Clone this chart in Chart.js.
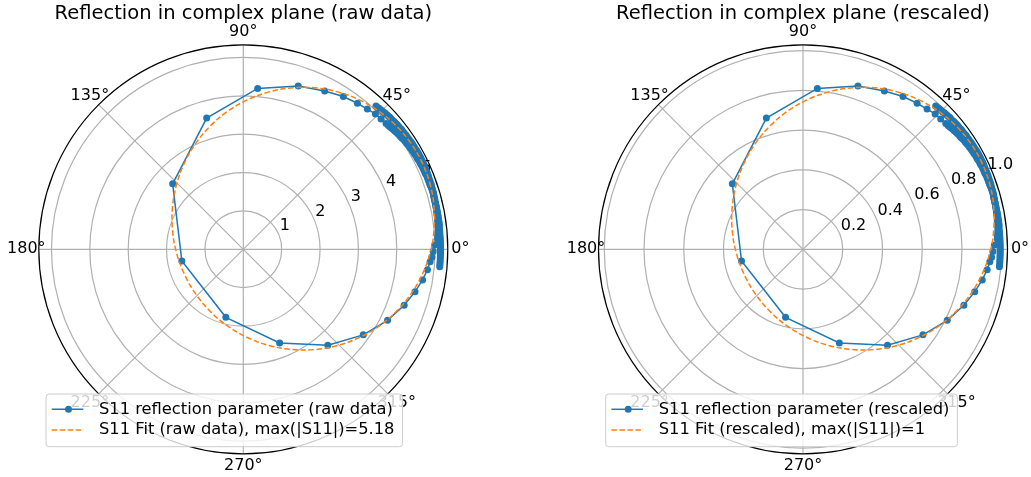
<!DOCTYPE html>
<html>
<head>
<meta charset="utf-8">
<script src="https://cdn.jsdelivr.net/npm/chart.js@4.4.0/dist/chart.umd.min.js"></script>
<style>
    html, body { margin: 0; padding: 0; background: #fff; }
    body { width: 1031px; height: 477px; position: relative; overflow: hidden; }
    .panel { position: absolute; top: 0; }
</style>
</head>
<body>
<div class="panel" style="left:0"><canvas id="rawCanvas" width="516" height="477"></canvas></div>
<div class="panel" style="left:516px"><canvas id="scaledCanvas" width="515" height="477"></canvas></div>
<script>
// measured S11 (raw data): phase in degrees, magnitude
// slow start near 47 deg, resonance loop, slow tail down to -5 deg
const s11PhaseDeg = [
    // start (outer track)
    47.2, 46.7, 46.1, 45.6, 45.1, 44.5, 44.0, 43.5, 43.0, 42.4,
    41.9, 41.4, 40.9, 40.3, 39.8, 39.3, 38.8, 38.2, 37.7, 37.2,
    36.7, 36.1, 35.6, 35.1, 34.6, 34.0, 33.5, 33.0, 32.5, 31.9,
    31.4, 30.9, 30.4, 29.8, 29.3, 28.8, 28.3, 27.7, 27.2, 26.7,
    26.1, 25.6, 25.0, 24.5, 23.9, 23.4, 22.8, 22.3, 21.7, 21.2,
    20.6, 20.0, 19.4, 18.9, 18.3, 17.7, 17.1, 16.5, 15.9, 15.3,
    14.7, 14.1, 13.5, 12.9, 12.3, 11.6, 11.0, 10.4, 9.8, 9.1,
    8.5, 7.8, 7.2, 6.5, 5.9, 5.2, 4.5, 3.8, 3.1,
    // resonance loop
    1.3, -0.7, -2.4, -3.8, -6.3, -9.7, -13.9, -19.2, -26.2, -35.5,
    -48.6, -68.8, -104.4, -169.3, 137.2, 105.6, 84.9, 71.4, 62.8, 56.8,
    52.0, 48.5, 45.7, 43.4, 41.4,
    // tail (inner track)
    40.5, 39.9, 39.3, 38.7, 38.1, 37.5, 36.9, 36.3, 35.7, 35.1,
    34.5, 33.9, 33.3, 32.7, 32.1, 31.5, 30.9, 30.3, 29.7, 29.1,
    28.5, 27.9, 27.3, 26.7, 26.1, 25.5, 24.9, 24.3, 23.7, 23.1,
    22.5, 21.9, 21.3, 20.7, 20.1, 19.5, 18.9, 18.3, 17.7, 17.1,
    16.5, 15.9, 15.3, 14.7, 14.1, 13.5, 12.9, 12.3, 11.7, 11.1,
    10.5, 9.9, 9.3, 8.7, 8.1, 7.5, 6.9, 6.3, 5.7, 5.1,
    4.5, 3.9, 3.3, 2.7, 2.1, 1.5, 0.9, 0.3, -0.3, -0.9,
    -1.5, -2.1, -2.7, -3.3, -3.9, -4.5, -5.1
];
const s11Mag = [
    5.09, 5.09, 5.10, 5.10, 5.11, 5.11, 5.12, 5.12, 5.13, 5.13,
    5.14, 5.14, 5.14, 5.15, 5.15, 5.16, 5.16, 5.16, 5.16, 5.17,
    5.17, 5.17, 5.17, 5.18, 5.18, 5.18, 5.18, 5.18, 5.19, 5.19,
    5.19, 5.19, 5.19, 5.20, 5.20, 5.20, 5.20, 5.20, 5.20, 5.20,
    5.20, 5.20, 5.20, 5.19, 5.19, 5.19, 5.19, 5.19, 5.19, 5.18,
    5.18, 5.18, 5.18, 5.18, 5.17, 5.17, 5.17, 5.17, 5.16, 5.16,
    5.16, 5.15, 5.15, 5.15, 5.14, 5.14, 5.14, 5.13, 5.13, 5.13,
    5.12, 5.12, 5.12, 5.11, 5.11, 5.10, 5.09, 5.08, 5.07,
    4.99, 4.95, 4.92, 4.88, 4.83, 4.74, 4.61, 4.44, 4.19, 3.84,
    3.33, 2.62, 1.83, 1.63, 2.51, 3.55, 4.21, 4.49, 4.64, 4.76,
    4.83, 4.88, 4.93, 4.94, 4.96,
    4.97, 4.98, 4.99, 5.00, 5.01, 5.02, 5.03, 5.04, 5.04, 5.05,
    5.06, 5.07, 5.07, 5.08, 5.09, 5.09, 5.10, 5.10, 5.11, 5.11,
    5.12, 5.12, 5.12, 5.13, 5.13, 5.13, 5.14, 5.14, 5.14, 5.14,
    5.14, 5.15, 5.15, 5.15, 5.15, 5.15, 5.15, 5.16, 5.16, 5.16,
    5.16, 5.16, 5.15, 5.15, 5.15, 5.15, 5.15, 5.15, 5.15, 5.15,
    5.15, 5.15, 5.15, 5.15, 5.15, 5.15, 5.15, 5.14, 5.14, 5.14,
    5.14, 5.14, 5.14, 5.14, 5.14, 5.14, 5.14, 5.14, 5.14, 5.14,
    5.14, 5.14, 5.14, 5.14, 5.14, 5.14, 5.14
];

// fitted circle (raw data), phase in degrees, magnitude
const fitPhaseDeg = [
    9.09, 15.75, 22.37, 29.00, 35.61, 42.25, 48.95, 55.74, 62.61, 69.66, 76.91, 84.40, 92.25, 100.54, 109.44, 119.16,
    130.01, 142.39, 156.78, 173.59, 192.72, 213.15, 232.97, 250.77, 266.09, 279.24, 290.64, 300.78, 309.99, 318.50,
    326.52, 334.14, 341.47, 348.58, 355.54, 362.35, 369.09
];
const fitMag = [
    5.053, 5.131, 5.172, 5.180, 5.152, 5.089, 4.991, 4.860, 4.697, 4.504, 4.282, 4.036, 3.767, 3.481, 3.181, 2.875,
    2.571, 2.282, 2.024, 1.819, 1.694, 1.673, 1.758, 1.934, 2.173, 2.453, 2.752, 3.058, 3.361, 3.653,
    3.930, 4.186, 4.418, 4.622, 4.798, 4.942, 5.053
];

const fitMax = 5.18;
const rawRMax = 5.33;
const rawTicks = [1, 2, 3, 4, 5];
const rawTickLabels = ["1", "2", "3", "4", "5"];
const scaledTicks = [0.2, 0.4, 0.6, 0.8, 1.0];
const scaledTickLabels = ["0.2", "0.4", "0.6", "0.8", "1.0"];
const angleTicks = [0, 45, 90, 135, 180, 225, 270, 315];
const angleTickLabels = ["0°", "45°", "90°", "135°", "180°", "225°", "270°", "315°"];

const BLUE = "#1f77b4";
const ORANGE = "#ff7f0e";
const FONT = "'DejaVu Sans', sans-serif";

function toXY(phases, mags, scale) {
    const n = Math.min(phases.length, mags.length);
    const pts = [];
    for (let i = 0; i < n; i++) {
        const a = phases[i] * Math.PI / 180;
        pts.push({ x: mags[i] * scale * Math.cos(a), y: mags[i] * scale * Math.sin(a) });
    }
    return pts;
}

const polarFrame = {
    id: "polarFrame",
    beforeDatasetsDraw(chart, args, o) {
        const ctx = chart.ctx;
        const xs = chart.scales.x, ys = chart.scales.y;
        const cx = xs.getPixelForValue(0), cy = ys.getPixelForValue(0);
        const R = xs.getPixelForValue(o.rmax) - cx;
        ctx.save();
        ctx.strokeStyle = "#b0b0b0";
        ctx.lineWidth = 1.2;
        o.ticks.forEach(t => {
            const r = xs.getPixelForValue(t) - cx;
            ctx.beginPath();
            ctx.arc(cx, cy, r, 0, Math.PI * 2);
            ctx.stroke();
        });
        angleTicks.forEach(a => {
            const rad = a * Math.PI / 180;
            ctx.beginPath();
            ctx.moveTo(cx, cy);
            ctx.lineTo(cx + R * Math.cos(rad), cy - R * Math.sin(rad));
            ctx.stroke();
        });
        // radial tick labels at 22.5 deg
        ctx.fillStyle = "#000";
        ctx.font = "16px " + FONT;
        ctx.textAlign = "left";
        ctx.textBaseline = "middle";
        const la = 22.5 * Math.PI / 180;
        o.ticks.forEach((t, i) => {
            const r = xs.getPixelForValue(t) - cx;
            ctx.fillText(o.tickLabels[i], cx + r * Math.cos(la) + 1, cy - r * Math.sin(la) - 8.5);
        });
        ctx.strokeStyle = "#000";
        ctx.lineWidth = 1.2;
        ctx.beginPath();
        ctx.arc(cx, cy, R, 0, Math.PI * 2);
        ctx.stroke();
        ctx.restore();
    },
    afterDraw(chart, args, o) {
        const ctx = chart.ctx;
        const xs = chart.scales.x, ys = chart.scales.y;
        const cx = xs.getPixelForValue(0), cy = ys.getPixelForValue(0);
        const R = xs.getPixelForValue(o.rmax) - cx;
        ctx.save();
        ctx.fillStyle = "#000";
        ctx.font = "16px " + FONT;
        ctx.textAlign = "center";
        ctx.textBaseline = "middle";
        angleTicks.forEach((a, i) => {
            const rad = a * Math.PI / 180;
            const d = R + 12.5;
            ctx.fillText(angleTickLabels[i], cx + d * Math.cos(rad), cy - d * Math.sin(rad));
        });
        ctx.font = "19.5px " + FONT;
        ctx.fillText(o.title, cx, 13.5);

        // legend
        ctx.font = "16.3px " + FONT;
        const tw = Math.max(ctx.measureText(o.labels[0]).width, ctx.measureText(o.labels[1]).width);
        const bx = cx - 197.3, by = cy + 144.7;
        const bw = 53 + tw + 8, bh = 52.7;
        ctx.beginPath();
        ctx.roundRect(bx, by, bw, bh, 3);
        ctx.fillStyle = "rgba(255,255,255,0.8)";
        ctx.fill();
        ctx.strokeStyle = "#cccccc";
        ctx.lineWidth = 1;
        ctx.stroke();

        const y1 = by + 15.3, y2 = by + 36;
        ctx.strokeStyle = BLUE;
        ctx.lineWidth = 1.5;
        ctx.beginPath();
        ctx.moveTo(bx + 5.7, y1);
        ctx.lineTo(bx + 37.3, y1);
        ctx.stroke();
        ctx.fillStyle = BLUE;
        ctx.beginPath();
        ctx.arc(bx + 22.5, y1, 3.5, 0, Math.PI * 2);
        ctx.fill();

        ctx.strokeStyle = ORANGE;
        ctx.setLineDash([5.5, 2.5]);
        ctx.beginPath();
        ctx.moveTo(bx + 5.7, y2);
        ctx.lineTo(bx + 37.3, y2);
        ctx.stroke();
        ctx.setLineDash([]);

        ctx.fillStyle = "#000";
        ctx.textAlign = "left";
        ctx.fillText(o.labels[0], bx + 53, y1);
        ctx.fillText(o.labels[1], bx + 53, y2);
        ctx.restore();
    }
};

function makeChart(id, scale, rmax, ticks, tickLabels, title, labels, padding) {
    return new Chart(document.getElementById(id), {
        type: "scatter",
        data: {
            datasets: [
                {
                    label: labels[0],
                    data: toXY(s11PhaseDeg, s11Mag, scale),
                    showLine: true,
                    borderColor: BLUE,
                    backgroundColor: BLUE,
                    borderWidth: 1.5,
                    pointRadius: 3.5,
                    pointBorderWidth: 0,
                    order: 2,
                    clip: false,
                },
                {
                    label: labels[1],
                    data: toXY(fitPhaseDeg, fitMag, scale),
                    showLine: true,
                    borderColor: ORANGE,
                    borderWidth: 1.5,
                    borderDash: [5.5, 2.5],
                    pointRadius: 0,
                    tension: 0.3,
                    order: 1,
                    clip: false,
                },
            ],
        },
        options: {
            responsive: false,
            animation: false,
            events: [],
            layout: { padding: padding },
            scales: {
                x: { type: "linear", min: -rmax, max: rmax, display: false },
                y: { type: "linear", min: -rmax, max: rmax, display: false },
            },
            plugins: {
                legend: { display: false },
                tooltip: { enabled: false },
                polarFrame: {
                    rmax: rmax,
                    ticks: ticks,
                    tickLabels: tickLabels,
                    title: title,
                    labels: labels,
                },
            },
        },
        plugins: [polarFrame],
    });
}

makeChart("rawCanvas", 1, rawRMax, rawTicks, rawTickLabels,
    "Reflection in complex plane (raw data)",
    ["S11 reflection parameter (raw data)", "S11 Fit (raw data), max(|S11|)=5.18"],
    { left: 38.8, top: 44.8, right: 68.2, bottom: 23.2 });

makeChart("scaledCanvas", 1 / fitMax, rawRMax / fitMax, scaledTicks, scaledTickLabels,
    "Reflection in complex plane (rescaled)",
    ["S11 reflection parameter (rescaled)", "S11 Fit (rescaled), max(|S11|)=1"],
    { left: 82.5, top: 44.8, right: 23.5, bottom: 23.2 });
</script>
</body>
</html>
